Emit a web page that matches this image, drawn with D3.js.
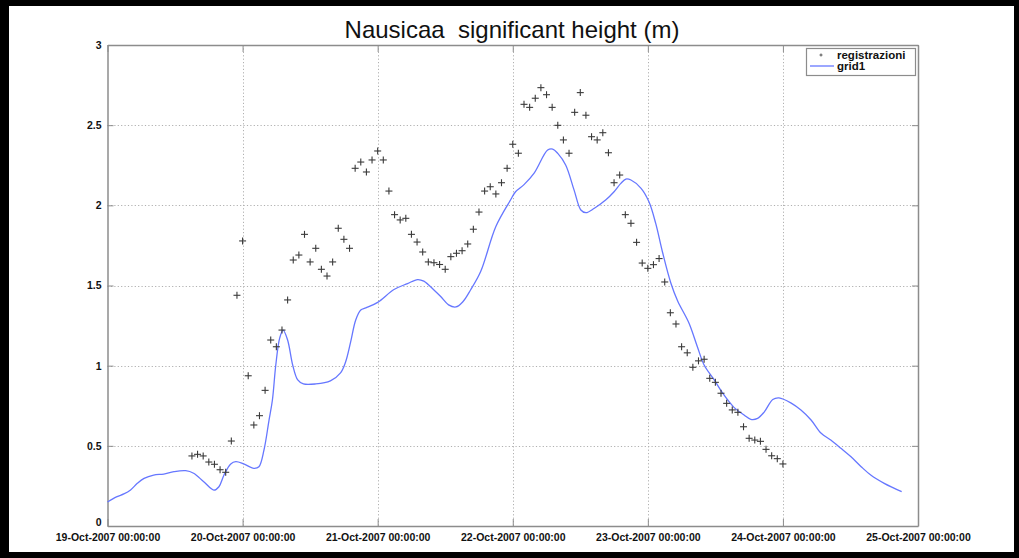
<!DOCTYPE html>
<html>
<head>
<meta charset="utf-8">
<script src="https://cdn.jsdelivr.net/npm/d3@7"></script>
<style>
  html, body { margin: 0; padding: 0; background: #000; }
  svg { display: block; }
  text { font-family: "Liberation Sans", Arial, Helvetica, sans-serif; }
</style>
</head>
<body>
<svg id="chart" width="1019" height="558"></svg>
<script>
// ---------------- data ----------------
const title = "Nausicaa  significant height (m)";
const seriesNames = ["registrazioni", "grid1"];
const startDate = new Date(2007, 9, 19, 0, 0, 0);
const xTickDays = [0, 1, 2, 3, 4, 5, 6];            // days after 19-Oct-2007
const xTickLabels = ["19-Oct-2007 00:00:00", "20-Oct-2007 00:00:00", "21-Oct-2007 00:00:00",
  "22-Oct-2007 00:00:00", "23-Oct-2007 00:00:00", "24-Oct-2007 00:00:00", "25-Oct-2007 00:00:00"];
const yTicks = [0, 0.5, 1, 1.5, 2, 2.5, 3];
const yTickLabels = ["0", "0.5", "1", "1.5", "2", "2.5", "3"];

// observations (registrazioni): hours after start, values (m)
const obsHours = [15,16,17,18,19,20,21,22,23,24,25,26,27,28,29,30,31,32,33,34,35,36,37,38,39,40,
  41,42,43,44,45,46,47,48,49,50,51,52,53,54,55,56,57,58,59,60,61,62,63,64,65,66,67,68,69,70,
  71,72,73,74,75,76,77,78,79,80,81,82,83,84,85,86,87,88,89,90,91,92,93,94,95,96,97,98,99,100,
  101,102,103,104,105,106,107,108,109,110,111,112,113,114,115,116,117,118,119,120];
const obsValues = [0.437,0.447,0.437,0.399,0.385,0.351,0.335,0.530,1.439,1.778,0.937,0.630,0.688,0.846,1.160,1.118,
  1.222,1.410,1.659,1.690,1.819,1.647,1.732,1.601,1.559,1.647,1.857,1.788,1.732,2.231,2.270,2.208,2.283,2.339,2.283,
  2.089,1.942,1.909,1.919,1.819,1.771,1.709,1.647,1.642,1.631,1.601,1.680,1.701,1.717,1.759,1.851,1.958,2.089,2.116,
  2.071,2.141,2.231,2.381,2.325,2.630,2.611,2.668,2.734,2.690,2.611,2.499,2.408,2.325,2.580,2.703,2.562,2.428,2.408,
  2.453,2.328,2.141,2.189,1.942,1.888,1.769,1.640,1.607,1.630,1.668,1.522,1.330,1.260,1.118,1.080,0.990,1.030,1.040,
  0.921,0.896,0.828,0.765,0.724,0.709,0.619,0.547,0.536,0.528,0.478,0.438,0.420,0.387];

// model (grid1): hours after start, values (m)
const gridHours = [0,1.7,2.9,4.1,5.3,6.5,8.2,10,11.8,13.9,15.3,17.1,18.9,19.8,20.7,21.9,22.8,24.2,26,26.9,27.8,28.7,
  29.3,29.9,30.6,31.2,32,32.9,33.8,34.8,37,39.6,41.4,42.3,43.2,44.1,45,45.9,48,50.9,53.3,55.1,56.2,58,59.2,60.6,
  61.9,63.1,64.5,66.3,69,71.6,72.5,74,75.8,78.2,79.1,80,81.4,82.9,84.1,85,86.5,88.5,90,91.2,92.1,93,94.8,96.2,97.4,
  98.6,100.1,101.3,103.3,104.8,106,107.8,109.3,111.3,113.1,114.3,115.5,116.7,118.2,119.3,121.4,123.2,125,126.8,
  128.5,130.3,132.1,133.9,135.6,138,141.1];
const gridValues = [0.150,0.183,0.200,0.225,0.266,0.297,0.318,0.324,0.339,0.345,0.329,0.276,0.224,0.245,0.318,0.387,
  0.401,0.387,0.360,0.370,0.474,0.661,0.786,1.004,1.173,1.222,1.160,1.004,0.911,0.886,0.886,0.905,0.955,1.023,1.148,
  1.285,1.347,1.360,1.395,1.475,1.512,1.537,1.527,1.472,1.431,1.379,1.366,1.397,1.472,1.587,1.868,2.033,2.085,2.129,
  2.201,2.345,2.351,2.324,2.252,2.095,1.971,1.954,1.982,2.033,2.085,2.137,2.164,2.158,2.106,2.022,1.887,1.709,1.514,
  1.403,1.266,1.118,1.004,0.911,0.828,0.740,0.692,0.665,0.671,0.712,0.789,0.799,0.768,0.723,0.661,0.578,0.536,0.485,
  0.432,0.370,0.318,0.266,0.214];

// ---------------- layout ----------------
const svg = d3.select("#chart");
const W = 1019, H = 558;
const plot = { left: 107.5, right: 918, top: 45, bottom: 526 };

// frame
svg.append("rect").attr("x", 0).attr("y", 0).attr("width", W).attr("height", H).attr("fill", "#000");
svg.append("rect").attr("x", 9).attr("y", 6).attr("width", 1005).attr("height", 546).attr("fill", "#fff");

const hourToDate = h => new Date(startDate.getTime() + h * 3600e3);
const x = d3.scaleTime()
  .domain([startDate, d3.timeDay.offset(startDate, 6)])
  .range([plot.left, plot.right]);
const y = d3.scaleLinear().domain([0, 3]).range([plot.bottom, plot.top]);

const xTickDates = xTickDays.map(d => d3.timeDay.offset(startDate, d));

// grid lines
const grid = svg.append("g").attr("stroke", "#b0b0b0").attr("stroke-width", 1)
  .attr("stroke-dasharray", "1.2,2.2");
xTickDates.slice(1, -1).forEach(d => {
  grid.append("line").attr("x1", Math.round(x(d)) + 0.5).attr("x2", Math.round(x(d)) + 0.5)
    .attr("y1", plot.top).attr("y2", plot.bottom);
});
yTicks.slice(1, -1).forEach(v => {
  grid.append("line").attr("x1", plot.left).attr("x2", plot.right)
    .attr("y1", Math.round(y(v)) + 0.5).attr("y2", Math.round(y(v)) + 0.5);
});

// axes
const axisColor = "#8c8c8c";
const tickFont = "bold 10.5px 'Liberation Sans', Arial, sans-serif";

const xAxis = d3.axisBottom(x).tickValues(xTickDates)
  .tickFormat((d, i) => xTickLabels[i]).tickSizeInner(-7).tickSizeOuter(0).tickPadding(4);
const gx = svg.append("g").attr("transform", `translate(0,${plot.bottom})`).call(xAxis);
const xTop = d3.axisTop(x).tickValues(xTickDates).tickFormat("").tickSizeInner(-7).tickSizeOuter(0);
const gxt = svg.append("g").attr("transform", `translate(0,${plot.top})`).call(xTop);

const yAxis = d3.axisLeft(y).tickValues(yTicks)
  .tickFormat((d, i) => yTickLabels[i]).tickSizeInner(-6).tickSizeOuter(0).tickPadding(6);
const gy = svg.append("g").attr("transform", `translate(${plot.left},0)`).call(yAxis);
const yRight = d3.axisRight(y).tickValues(yTicks).tickFormat("").tickSizeInner(-6).tickSizeOuter(0);
const gyr = svg.append("g").attr("transform", `translate(${plot.right},0)`).call(yRight);

[gx, gxt, gy, gyr].forEach(g => {
  g.select(".domain").attr("stroke", axisColor).attr("stroke-width", 1.5);
  g.selectAll(".tick line").attr("stroke", axisColor);
  g.selectAll(".tick text").style("font", tickFont).attr("fill", "#111");
});
gx.selectAll(".tick text").attr("dy", "1.0em");
// lift the "0" label a little so it sits above the first date label
gy.selectAll(".tick text").filter(d => d === 0).attr("dy", "-0.05em");

// title (keep the double space)
svg.append("text").attr("x", 512).attr("y", 38).attr("text-anchor", "middle")
  .style("white-space", "pre")
  .style("font", "24px 'Liberation Sans', Arial, sans-serif").attr("fill", "#111").text(title);

// model line
const lineData = gridHours.map((h, i) => ({ t: hourToDate(h), v: gridValues[i] }));
svg.append("path").datum(lineData)
  .attr("fill", "none").attr("stroke", "#6677ff").attr("stroke-width", 1.3)
  .attr("d", d3.line().x(d => x(d.t)).y(d => y(d.v)).curve(d3.curveCatmullRom.alpha(0.5)));

// observation markers
const obsData = obsHours.map((h, i) => ({ t: hourToDate(h), v: obsValues[i] }));
const mk = svg.append("g").attr("stroke", "#3a3a3a").attr("stroke-width", 1.1);
obsData.forEach(d => {
  const cx = x(d.t), cy = y(d.v);
  mk.append("line").attr("x1", cx - 3.5).attr("x2", cx + 3.5).attr("y1", cy).attr("y2", cy);
  mk.append("line").attr("x1", cx).attr("x2", cx).attr("y1", cy - 3.5).attr("y2", cy + 3.5);
});

// legend
const lg = svg.append("g");
lg.append("rect").attr("x", 806.5).attr("y", 48.5).attr("width", 109).attr("height", 27)
  .attr("fill", "#fff").attr("stroke", "#8c8c8c").attr("stroke-width", 1.2);
lg.append("line").attr("x1", 819.5).attr("x2", 822.5).attr("y1", 55).attr("y2", 55).attr("stroke", "#555");
lg.append("line").attr("x1", 821).attr("x2", 821).attr("y1", 53.5).attr("y2", 56.5).attr("stroke", "#555");
lg.append("text").attr("x", 837).attr("y", 55).attr("dy", "0.35em")
  .style("font", "bold 11.5px 'Liberation Sans', Arial, sans-serif").attr("fill", "#111").text(seriesNames[0]);
lg.append("line").attr("x1", 810).attr("x2", 834).attr("y1", 66).attr("y2", 66)
  .attr("stroke", "#6677ff").attr("stroke-width", 1.3);
lg.append("text").attr("x", 837).attr("y", 66).attr("dy", "0.35em")
  .style("font", "bold 11.5px 'Liberation Sans', Arial, sans-serif").attr("fill", "#111").text(seriesNames[1]);
</script>
</body>
</html>
